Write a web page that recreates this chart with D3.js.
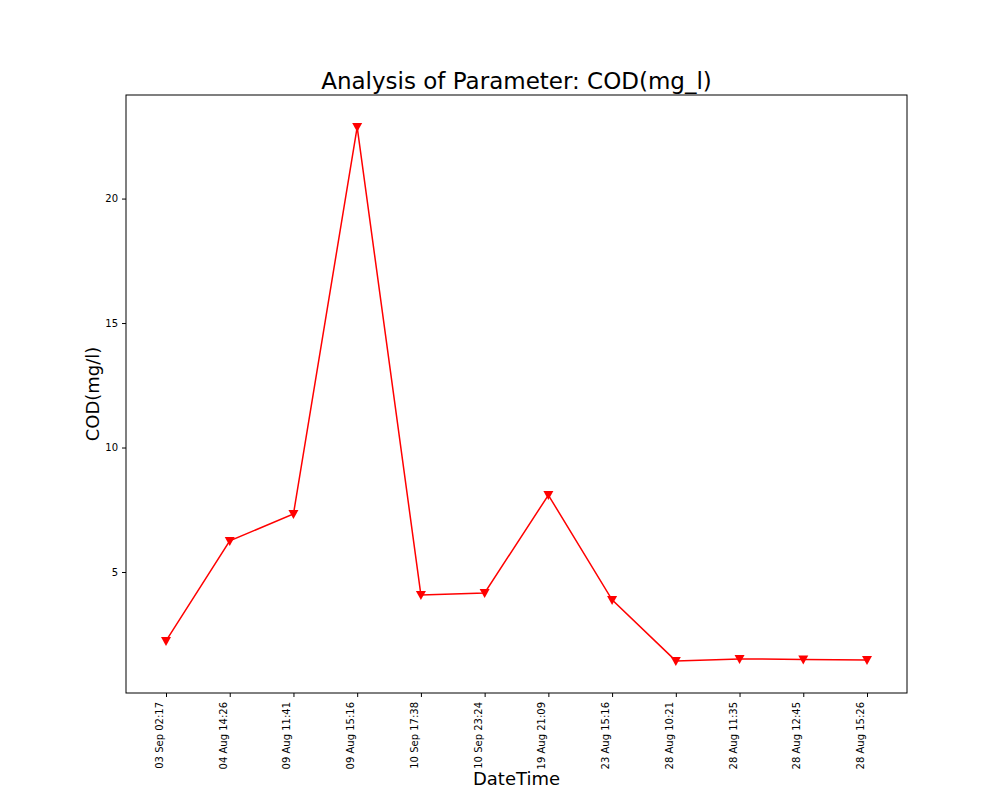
<!DOCTYPE html><html><head><script src="https://cdn.jsdelivr.net/npm/d3@7"></script>
<style>body{margin:0;background:#fff}text{font-family:"DejaVu Sans",sans-serif}</style></head><body>
<svg id="c" width="1008" height="792"></svg>
<script>
const labels=["03 Sep 02:17","04 Aug 14:26","09 Aug 11:41","09 Aug 15:16","10 Sep 17:38","10 Sep 23:24","19 Aug 21:09","23 Aug 15:16","28 Aug 10:21","28 Aug 11:35","28 Aug 12:45","28 Aug 15:26"];
const values=[2.23,6.25,7.33,22.87,4.08,4.16,8.09,3.88,1.43,1.51,1.49,1.47];
const yTicks=[5,10,15,20];
const svg=d3.select("#c");
const L=126,R=907,T=95,B=693;
const x=d3.scalePoint().domain(labels).range([166,867]);
const y=d3.scaleLinear().domain([0.14,24.16]).range([B,T]);
svg.append("rect").attr("x",L).attr("y",T).attr("width",R-L).attr("height",B-T).attr("fill","none").attr("stroke","#000").attr("stroke-width",1);
const xa=svg.append("g").attr("transform",`translate(0,${B})`).call(d3.axisBottom(x).tickSize(4).tickPadding(4));
xa.select(".domain").remove();
xa.selectAll("text").attr("transform","rotate(-90)").attr("text-anchor","end").attr("dx","-0.5em").attr("dy","-0.35em").attr("x",-4).attr("y",0).style("font-size","10px");
const ya=svg.append("g").attr("transform",`translate(${L},0)`).call(d3.axisLeft(y).tickValues(yTicks).tickSize(4).tickPadding(4));
ya.select(".domain").remove();ya.selectAll("text").style("font-size","10px");
svg.append("path").datum(values).attr("fill","none").attr("stroke","red").attr("stroke-width",1.5)
 .attr("d",d3.line().x((d,i)=>x(labels[i])).y(d=>y(d)));
svg.selectAll(".m").data(values).enter().append("path").attr("fill","red")
 .attr("transform",(d,i)=>`translate(${x(labels[i])},${y(d)})`).attr("d","M-5,-4L5,-4L0,5Z");
svg.append("text").attr("x",(L+R)/2).attr("y",89).attr("text-anchor","middle").style("font-size","23px").text("Analysis of Parameter: COD(mg_l)");
svg.append("text").attr("x",(L+R)/2).attr("y",785).attr("text-anchor","middle").style("font-size","18px").text("DateTime");
svg.append("text").attr("transform",`translate(99,${(T+B)/2}) rotate(-90)`).attr("text-anchor","middle").style("font-size","18px").text("COD(mg/l)");
</script></body></html>
